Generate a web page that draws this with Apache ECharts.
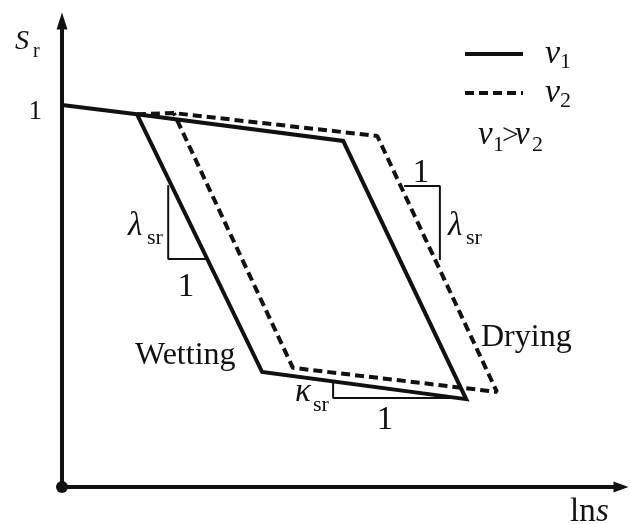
<!DOCTYPE html>
<html>
<head>
<meta charset="utf-8">
<script src="https://cdn.jsdelivr.net/npm/echarts@6/dist/echarts.min.js"></script>
<style>
  html, body { margin: 0; padding: 0; background: #fff; }
  #chart { width: 631px; height: 524px; }
</style>
</head>
<body>
<div id="chart"></div>
<script>
// Hysteresis of degree of saturation Sr against ln s (schematic units)
const seriesNames = ['v1', 'v2'];

// v1: main wetting/drying loop, starting from Sr = 1 on the axis
const v1X = [0, 1.34, 5.03, 7.23, 3.58, 1.34];
const v1Y = [1.0, 0.976, 0.906, 0.23, 0.301, 0.976];

// v2: loop shifted to larger suction
const v2X = [1.34, 2.0, 5.64, 7.78, 4.13, 2.0];
const v2Y = [0.976, 0.979, 0.919, 0.249, 0.312, 0.979];

// slope triangles (lambda_sr on wetting, lambda_sr on drying, kappa_sr on scanning)
const wetSlopeX = [1.9, 1.9, 2.58];
const wetSlopeY = [0.79, 0.597, 0.597];
const drySlopeX = [6.12, 6.76, 6.76];
const drySlopeY = [0.788, 0.788, 0.594];
const kappaSlopeX = [4.85, 4.85, 7.17];
const kappaSlopeY = [0.274, 0.233, 0.233];

// y-axis tick that carries a label
const yTickLabels = [1];

const INK = '#111';
const SERIF = '"Liberation Serif", "Times New Roman", serif';

const zip = (xs, ys) => xs.map((x, i) => [x, ys[i]]);

// text placed by its alphabetic baseline
function txt(text, x, base, size, italic, align) {
  return {
    type: 'text',
    x: x,
    y: base - 0.305 * size,
    z: 100,
    style: {
      text: text,
      fontFamily: SERIF,
      fontSize: size,
      fontStyle: italic ? 'italic' : 'normal',
      fill: INK,
      align: align || 'left',
      verticalAlign: 'middle'
    }
  };
}

function slope(name, xs, ys) {
  return {
    name: name,
    type: 'line',
    data: zip(xs, ys),
    symbol: 'none',
    silent: true,
    lineStyle: { color: INK, width: 2 },
    z: 3
  };
}

const chart = echarts.init(document.getElementById('chart'), null, { renderer: 'canvas' });

chart.setOption({
  backgroundColor: '#fff',
  animation: false,
  grid: { left: 62, right: 10, top: 21, bottom: 37, outerBoundsMode: 'none' },
  xAxis: {
    type: 'value',
    min: 0,
    max: 10,
    axisLine: {
      show: true,
      symbol: ['none', 'triangle'],
      symbolSize: [11, 15],
      lineStyle: { color: INK, width: 4 }
    },
    axisTick: { show: false },
    axisLabel: { show: false },
    splitLine: { show: false }
  },
  yAxis: {
    type: 'value',
    min: 0,
    max: 1.22,
    interval: 1,
    axisLine: {
      show: true,
      symbol: ['none', 'triangle'],
      symbolSize: [11, 17],
      lineStyle: { color: INK, width: 4 }
    },
    axisTick: { show: false },
    axisLabel: {
      color: INK,
      fontFamily: SERIF,
      fontSize: 27,
      margin: 20,
      verticalAlign: 'top',
      lineHeight: 13,
      formatter: v => (yTickLabels.indexOf(v) >= 0 ? String(v) : '')
    },
    splitLine: { show: false }
  },
  legend: {
    data: seriesNames,
    orient: 'vertical',
    left: 463,
    top: 37,
    padding: 0,
    itemWidth: 58,
    itemHeight: 14,
    itemGap: 3,
    selectedMode: false,
    itemStyle: { opacity: 0 },
    lineStyle: { width: 4 },
    formatter: name => '{v|v}{n|' + name.slice(1) + '}',
    textStyle: {
      color: INK,
      rich: {
        v: { fontFamily: SERIF, fontSize: 34, fontStyle: 'italic', lineHeight: 40, padding: [0, 0, 0, 17] },
        n: { fontFamily: SERIF, fontSize: 22, padding: [16, 0, 0, 0] }
      }
    }
  },
  series: [
    {
      name: 'v1',
      type: 'line',
      data: zip(v1X, v1Y),
      symbol: 'none',
      lineStyle: { color: INK, width: 4, join: 'miter' },
      itemStyle: { color: INK },
      z: 5
    },
    {
      name: 'v2',
      type: 'line',
      data: zip(v2X, v2Y),
      symbol: 'none',
      lineStyle: { color: INK, width: 4, type: [9, 5] },
      itemStyle: { color: INK },
      z: 4
    },
    slope('wetSlope', wetSlopeX, wetSlopeY),
    slope('drySlope', drySlopeX, drySlopeY),
    slope('kappaSlope', kappaSlopeX, kappaSlopeY),
    {
      name: 'origin',
      type: 'scatter',
      data: [[0, 0]],
      symbolSize: 12,
      clip: false,
      silent: true,
      itemStyle: { color: INK, opacity: 1 },
      z: 10
    }
  ],
  graphic: [
    // axis titles
    txt('S', 15, 50, 28, true),
    txt('r', 33, 58, 20, false),
    txt('ln', 570, 522, 33, false),
    txt('s', 596, 522, 33, true),
    // wetting slope
    txt('λ', 128, 236, 33, true),
    txt('sr', 147, 245, 22, false),
    txt('1', 186, 297, 33, false, 'center'),
    // drying slope
    txt('1', 421, 183, 33, false, 'center'),
    txt('λ', 448, 236, 33, true),
    txt('sr', 466, 245, 22, false),
    // scanning slope
    txt('κ', 295, 402, 33, true),
    txt('sr', 313, 412, 22, false),
    txt('1', 385, 430, 33, false, 'center'),
    // path names
    txt('Wetting', 135, 365, 32, false),
    txt('Drying', 481, 347, 32, false),
    // v1 > v2
    txt('v', 478, 145, 33, true),
    txt('1', 493, 152, 22, false),
    txt('>', 502, 145, 30, false),
    txt('v', 515, 145, 33, true),
    txt('2', 532, 152, 22, false)
  ]
});
</script>
</body>
</html>
